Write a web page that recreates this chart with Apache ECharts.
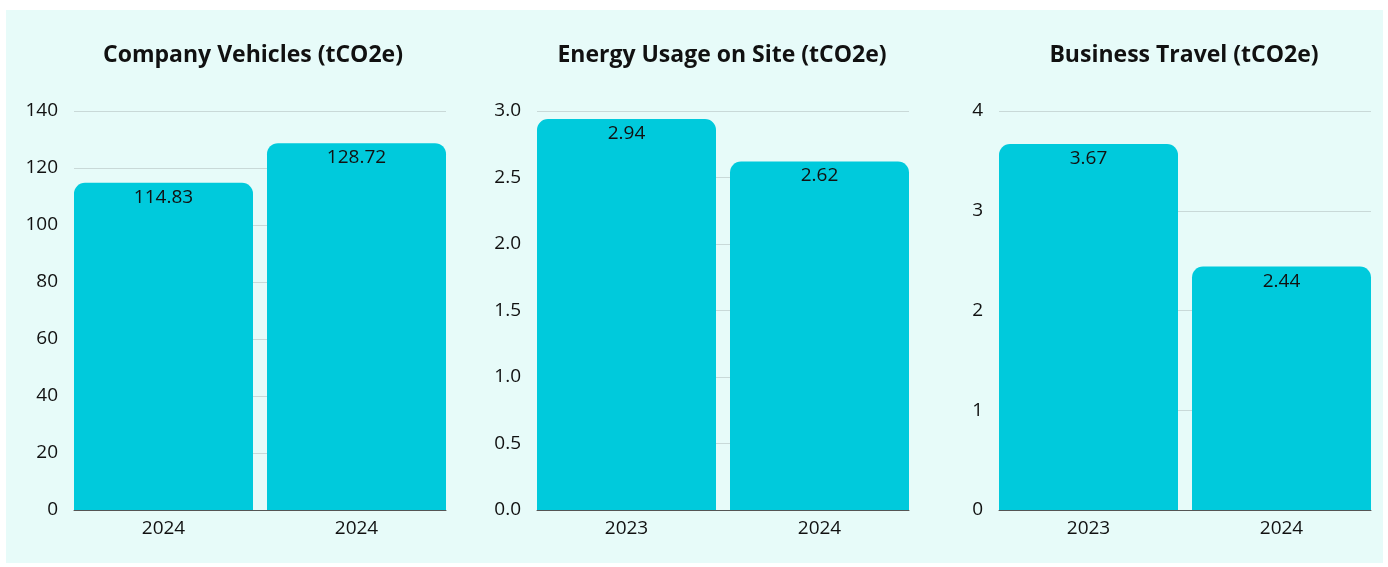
<!DOCTYPE html>
<html><head><meta charset="utf-8">
<script src="https://cdn.jsdelivr.net/npm/echarts@6/dist/echarts.min.js"></script>
<style>html,body{margin:0;padding:0;background:#fff}#c{width:1388px;height:567px}</style>
</head><body><div id="c"></div>
<script>
const titles = ['Company Vehicles (tCO2e)', 'Energy Usage on Site (tCO2e)', 'Business Travel (tCO2e)'];
const cats1 = ['2024', '2024'];
const cats2 = ['2023', '2024'];
const cats3 = ['2023', '2024'];
const vals1 = [114.83, 128.72];
const vals2 = [2.94, 2.62];
const vals3 = [3.67, 2.44];
const yMax = [140, 3.0, 4];
const yInterval = [20, 0.5, 1];
const yDecimals = [0, 1, 0];

const cats = [cats1, cats2, cats3];
const vals = [vals1, vals2, vals3];
const lefts = [74, 537, 999];
const titleCenters = [248, 717, 1179];
const W = 372;
const PAD = 7;
const font = 'Open Sans';
const chart = echarts.init(document.getElementById('c'));

const grids = [], xAxes = [], yAxes = [], series = [];
// axis grids (gridlines, y labels, axis line)
lefts.forEach((l, i) => {
  grids.push({left: l, width: W, top: 111, height: 399});
  xAxes.push({type: 'category', gridIndex: i, data: cats[i], axisTick: {show: false},
    axisLabel: {show: false}, axisLine: {show: true, lineStyle: {color: '#555', width: 1}}, z: 1});
  yAxes.push({type: 'value', gridIndex: i, min: 0, max: yMax[i], interval: yInterval[i],
    axisLine: {show: false}, axisTick: {show: false},
    splitLine: {lineStyle: {color: '#C9D9D8', width: 1}},
    axisLabel: {fontFamily: font, fontSize: 19, color: '#111', margin: 16,
      formatter: v => v.toFixed(yDecimals[i])}});
});
// bar grids (slightly wider so bars reach the plot edges)
lefts.forEach((l, i) => {
  const g = 3 + i;
  grids.push({left: l - PAD, width: W + 2 * PAD, top: 111, height: 399});
  xAxes.push({type: 'category', gridIndex: g, data: cats[i], axisTick: {show: false},
    axisLine: {show: false},
    axisLabel: {fontFamily: font, fontSize: 19, color: '#111', margin: 9}});
  yAxes.push({type: 'value', gridIndex: g, min: 0, max: yMax[i], interval: yInterval[i],
    show: false, splitLine: {show: false}});
  series.push({type: 'bar', xAxisIndex: g, yAxisIndex: g, data: vals[i],
    barWidth: W / 2 - PAD,
    itemStyle: {color: '#00CADC', borderRadius: [11, 11, 0, 0]},
    label: {show: true, position: 'insideTop', distance: 5, fontFamily: font, fontSize: 19, color: '#111'}});
});

const option = {
  backgroundColor: '#ffffff',
  animation: false,
  graphic: [{type: 'rect', z: -10, shape: {x: 6, y: 10, width: 1377, height: 553}, style: {fill: '#E7FBF9'}}],
  title: titles.map((t, i) => ({
    text: t, left: titleCenters[i], top: 39, textAlign: 'center',
    textStyle: {fontFamily: font, fontWeight: 'bold', fontSize: 23, color: '#111'}
  })),
  grid: grids, xAxis: xAxes, yAxis: yAxes, series: series
};
chart.setOption(option);
</script></body></html>
